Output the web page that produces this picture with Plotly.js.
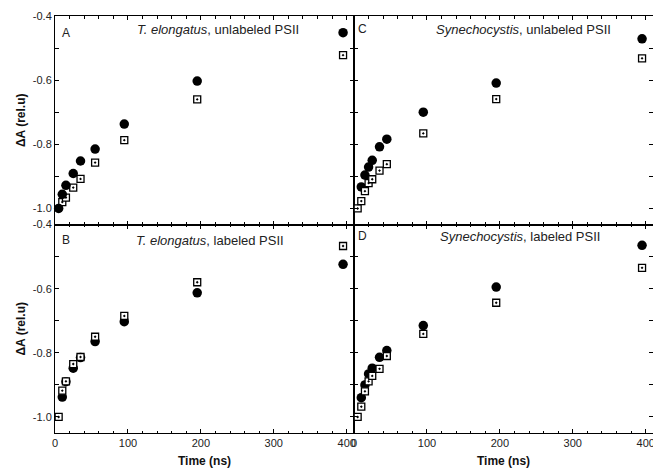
<!DOCTYPE html>
<html>
<head>
<meta charset="utf-8">
<script src="https://cdn.plot.ly/plotly-3.0.1.min.js"></script>
<style>html,body{margin:0;padding:0;background:#fff;overflow:hidden;}#chart{width:653px;height:470px;}</style>
</head>
<body>
<div id="chart"></div>
<script>
// Panel A: T. elongatus, unlabeled PSII
const tA_circ = [5, 10, 15, 25, 35, 55, 95, 195, 395];
const vA_circ = [-1.0, -0.956, -0.928, -0.891, -0.852, -0.815, -0.737, -0.603, -0.452];
const tA_sq = [10, 15, 25, 35, 55, 95, 195, 395];
const vA_sq = [-0.980, -0.966, -0.935, -0.908, -0.857, -0.787, -0.660, -0.522];

// Panel B: T. elongatus, labeled PSII
const tB_circ = [10, 15, 25, 35, 55, 95, 195, 395];
const vB_circ = [-0.938, -0.890, -0.848, -0.815, -0.765, -0.703, -0.613, -0.524];
const tB_sq = [5, 10, 15, 25, 35, 55, 95, 195, 395];
const vB_sq = [-1.0, -0.918, -0.889, -0.835, -0.813, -0.750, -0.685, -0.580, -0.467];

// Panel C: Synechocystis, unlabeled PSII
const tC_circ = [10, 15, 20, 25, 35, 45, 95, 195, 395];
const vC_circ = [-0.933, -0.896, -0.871, -0.850, -0.808, -0.784, -0.700, -0.609, -0.471];
const tC_sq = [5, 10, 15, 20, 25, 35, 45, 95, 195, 395];
const vC_sq = [-1.0, -0.977, -0.946, -0.921, -0.909, -0.882, -0.862, -0.766, -0.659, -0.532];

// Panel D: Synechocystis, labeled PSII
const tD_circ = [10, 15, 20, 25, 35, 45, 95, 195, 395];
const vD_circ = [-0.940, -0.900, -0.866, -0.848, -0.814, -0.793, -0.715, -0.595, -0.465];
const tD_sq = [5, 10, 15, 20, 25, 35, 45, 95, 195, 395];
const vD_sq = [-1.0, -0.968, -0.920, -0.889, -0.872, -0.850, -0.810, -0.741, -0.644, -0.535];

const xTickVals = [0, 100, 200, 300, 400];
const xTickText = ['0', '100', '200', '300', '400'];
const yTickVals = [-1.0, -0.8, -0.6, -0.4];
const yTickText = ['-1.0', '-0.8', '-0.6', '-0.4'];

const panelLetters = ['A', 'C', 'B', 'D'];
const panelTitles = [
  '<i>T. elongatus</i>, unlabeled PSII',
  '<i>Synechocystis</i>, unlabeled PSII',
  '<i>T. elongatus</i>, labeled PSII',
  '<i>Synechocystis</i>, labeled PSII'
];

const FONT = 'Liberation Sans, Arial, Helvetica, sans-serif';

const circMarker = {symbol: 'circle', size: 9.5, color: '#000', line: {width: 0}};
const sqMarker = {symbol: 'square-dot', size: 7, color: '#fff', line: {color: '#000', width: 1.3}};

function circ(x, y, xa, ya) {
  return {x: x, y: y, xaxis: xa, yaxis: ya, type: 'scatter', mode: 'markers', marker: circMarker, showlegend: false, hoverinfo: 'skip', cliponaxis: false};
}
function sq(x, y, xa, ya) {
  return {x: x, y: y, xaxis: xa, yaxis: ya, type: 'scatter', mode: 'markers', marker: sqMarker, showlegend: false, hoverinfo: 'skip', cliponaxis: false};
}

const data = [
  sq(tA_sq, vA_sq, 'x', 'y'), circ(tA_circ, vA_circ, 'x', 'y'),
  circ(tC_circ, vC_circ, 'x2', 'y2'), sq(tC_sq, vC_sq, 'x2', 'y2'),
  circ(tB_circ, vB_circ, 'x3', 'y3'), sq(tB_sq, vB_sq, 'x3', 'y3'),
  circ(tD_circ, vD_circ, 'x4', 'y4'), sq(tD_sq, vD_sq, 'x4', 'y4')
];

function xax(domain, anchor, showLabels) {
  const a = {
    domain: domain, anchor: anchor, range: [0, 410],
    tickmode: 'array', tickvals: xTickVals, ticktext: xTickText,
    showticklabels: showLabels, ticklabeloverflow: 'allow',
    ticks: 'inside', ticklen: 4, tickwidth: 1, tickcolor: '#000',
    minor: {dtick: 20, tick0: 0, ticks: 'inside', ticklen: 2.5, tickcolor: '#000', showgrid: false},
    showline: true, linecolor: '#000', linewidth: 1, mirror: 'ticks',
    showgrid: false, zeroline: false,
    tickfont: {family: FONT, size: 11, color: '#222'}
  };
  if (showLabels) {
    a.title = {text: '<b>Time (ns)</b>', font: {family: FONT, size: 12, color: '#111'}, standoff: 8};
  }
  return a;
}
function yax(domain, anchor, showLabels) {
  const a = {
    domain: domain, anchor: anchor, range: [-1.05, -0.4],
    tickmode: 'array', tickvals: yTickVals, ticktext: yTickText,
    showticklabels: showLabels, ticklabeloverflow: 'allow',
    ticks: 'inside', ticklen: 4, tickwidth: 1, tickcolor: '#000',
    minor: {dtick: 0.1, tick0: 0, ticks: 'inside', ticklen: 4, tickcolor: '#000', showgrid: false},
    showline: true, linecolor: '#000', linewidth: 1, mirror: 'ticks',
    showgrid: false, zeroline: false,
    tickfont: {family: FONT, size: 11, color: '#222'}
  };
  if (showLabels) {
    a.title = {text: '<b>ΔA (rel.u)</b>', font: {family: FONT, size: 12, color: '#111'}, standoff: 4};
  }
  return a;
}

const annPos = [
  {xa: 'x', ya: 'y', lx: 0.038, ly: 0.92, tx: 0.544, ty: 0.933},
  {xa: 'x2', ya: 'y2', lx: 0.028, ly: 0.939, tx: 0.567, ty: 0.933},
  {xa: 'x3', ya: 'y3', lx: 0.036, ly: 0.925, tx: 0.517, ty: 0.925},
  {xa: 'x4', ya: 'y4', lx: 0.029, ly: 0.945, tx: 0.554, ty: 0.944}
];
const annotations = [];
annPos.forEach((p, i) => {
  annotations.push({xref: p.xa + ' domain', yref: p.ya + ' domain', x: p.lx, y: p.ly, text: panelLetters[i], showarrow: false, xanchor: 'center', yanchor: 'middle', font: {family: FONT, size: 12, color: '#222'}});
  annotations.push({xref: p.xa + ' domain', yref: p.ya + ' domain', x: p.tx, y: p.ty, text: panelTitles[i], showarrow: false, xanchor: 'center', yanchor: 'middle', font: {family: FONT, size: 13, color: '#222'}});
});

const layout = {
  width: 653, height: 470,
  margin: {l: 55, r: 0, t: 16, b: 37, pad: 0},
  paper_bgcolor: '#fff', plot_bgcolor: '#fff',
  showlegend: false,
  xaxis: xax([0, 0.5], 'y', false),
  yaxis: yax([0.5, 1], 'x', true),
  xaxis2: xax([0.5, 1], 'y2', false),
  yaxis2: yax([0.5, 1], 'x2', false),
  xaxis3: xax([0, 0.5], 'y3', true),
  yaxis3: yax([0, 0.5], 'x3', true),
  xaxis4: xax([0.5, 1], 'y4', true),
  yaxis4: yax([0, 0.5], 'x4', false),
  annotations: annotations
};

Plotly.newPlot('chart', data, layout, {displayModeBar: false, staticPlot: true});
</script>
</body>
</html>
